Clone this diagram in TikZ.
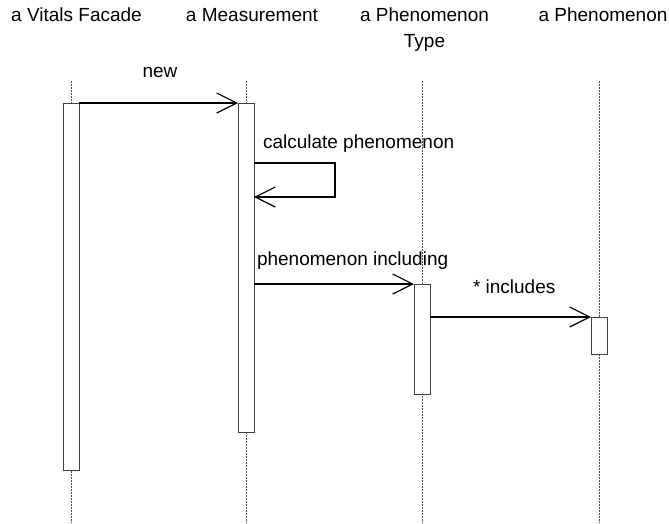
\documentclass[tikz,border=0pt]{standalone}
\usepackage{fontspec}
\setmainfont{Liberation Sans}
\usetikzlibrary{arrows.meta}
\begin{document}
\begin{tikzpicture}[x=1pt,y=-1pt,
  every node/.style={font=\fontsize{19}{26}\selectfont, inner sep=0pt, outer sep=0pt},
  header/.style={anchor=base, align=center},
  msglabel/.style={anchor=base west},
  actbox/.style={draw=black!75, line width=0.9pt, fill=white, minimum width=16pt, anchor=north},
  lifeline/.style={draw=black!70, line width=0.7pt, dash pattern=on 1.5pt off 1.5pt},
  msg/.style={draw=black, line width=1.2pt, -{Straight Barb[length=20pt,width=20pt,line width=1.2pt]}}]
\useasboundingbox (0,0) rectangle (669,523);
% headers
\node[header] (hvf) at (76.5,21) {a Vitals Facade};
\node[header] (hms) at (252,21) {a Measurement};
\node[header] (hpt) at (424.5,47) {a Phenomenon\\Type};
\node[header] (hph) at (603,21) {a Phenomenon};
% lifelines
\coordinate (lvf1) at (71,81); \coordinate (lvf2) at (71,523);
\coordinate (lms1) at (246,81); \coordinate (lms2) at (246,523);
\coordinate (lpt1) at (422,81); \coordinate (lpt2) at (422,523);
\coordinate (lph1) at (599,81); \coordinate (lph2) at (599,523);
\draw[lifeline] (lvf1) -- (lvf2);
\draw[lifeline] (lms1) -- (lms2);
\draw[lifeline] (lpt1) -- (lpt2);
\draw[lifeline] (lph1) -- (lph2);
% activation boxes
\node[actbox, minimum height=367pt] (vf) at (71,103) {};
\node[actbox, minimum height=329pt] (ms) at (246,103) {};
\node[actbox, minimum height=110pt] (pt) at (422,284) {};
\node[actbox, minimum height=37pt] (ph) at (599,317) {};
% messages
\draw[msg] (vf.north east) -- (ms.north west);
\node (lnew) at (160,77) [anchor=base] {new};
\coordinate (s1) at (254,163);
\coordinate (s2) at (254,197);
\draw[msg] (s1) -- ++(81,0) |- (s2);
\node[msglabel] (lcalc) at (263,148) {calculate phenomenon};
\draw[msg] (ms.east |- pt.north) -- (pt.north west);
\node[msglabel] (lincl) at (257,265) {phenomenon including};
\draw[msg] (pt.east |- ph.north) -- (ph.north west);
\node[msglabel] (lincs) at (473,293) {* includes};
\end{tikzpicture}
\end{document}
